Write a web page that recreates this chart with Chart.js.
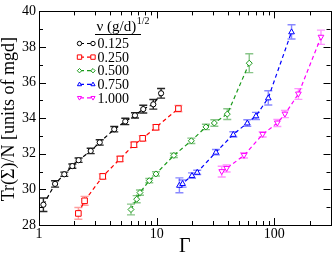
<!DOCTYPE html>
<html><head><meta charset="utf-8">
<script src="https://cdn.jsdelivr.net/npm/chart.js@4/dist/chart.umd.min.js"></script>
<style>html,body{margin:0;padding:0;background:#fff}#wrap{width:332px;height:255px;position:relative}</style>
</head><body><div id="wrap"><canvas id="c" width="332" height="255"></canvas></div>
<script>
const labels = ["0.125","0.250","0.500","0.750","1.000"];
const gamma125 = [1.09,1.37,1.64,1.92,2.17,2.75,3.28,4.36,5.41,6.54,7.69,9.36,10.9];
const tr125    = [29.14,30.31,30.85,31.31,31.64,32.16,32.64,33.38,33.82,34.16,34.51,34.78,35.4];
const err125   = [0.38,0.18,0.12,0.12,0.12,0.15,0.15,0.15,0.18,0.15,0.22,0.27,0.27];
const gamma250 = [2.16,2.44,3.48,4.88,6.41,7.6,9.86,15.3];
const tr250    = [28.65,29.36,30.73,31.71,32.51,32.87,33.49,34.54];
const err250   = [0.33,0.25,0.15,0.15,0.15,0.15,0.15,0.18];
const gamma500 = [6.05,6.76,7.21,8.65,9.86,14.0,19.7,26.2,30.9,39.8,61.2];
const tr500    = [28.87,29.45,29.82,30.49,30.87,31.91,32.73,33.51,33.73,34.23,37.09];
const err500   = [0.3,0.2,0.15,0.12,0.12,0.12,0.15,0.15,0.18,0.3,0.53];
const gamma750 = [15.6,16.6,19.95,22.1,31.9,44.8,58.9,69.8,88.8,140];
const tr750    = [30.23,30.33,30.78,30.96,32.09,33.09,33.73,34.13,35.14,38.85];
const err750   = [0.42,0.2,0.15,0.12,0.15,0.15,0.18,0.2,0.4,0.4];
const gamma1000 = [35.7,39.3,55.2,79.5,106,123,160,249];
const tr1000    = [31.0,31.18,31.91,33.09,33.73,34.23,35.36,38.55];
const err1000   = [0.3,0.2,0.15,0.15,0.2,0.2,0.3,0.4];
const yTicks = [28,30,32,34,36,38,40];
const xTicks = [1,10,100];
const xTitle = '\u0393';
const yTitle = 'Tr(\u03a3)/N [units of mgd]';
const legendTitle = '\u03bd (g/d)';
const legendTitleSup = '1/2';

const series = [
  {x:gamma125,y:tr125,e:err125,c:'#000000',ec:'rgba(0,0,0,0.85)',s:'circle',r:2.6},
  {x:gamma250,y:tr250,e:err250,c:'#ff0000',ec:'rgba(255,80,80,0.55)',s:'rect',r:2.8},
  {x:gamma500,y:tr500,e:err500,c:'#1a9a1a',ec:'rgba(40,150,40,0.55)',s:'rectRot',r:3},
  {x:gamma750,y:tr750,e:err750,c:'#0000ff',ec:'rgba(40,40,255,0.55)',s:'triangle',r:3},
  {x:gamma1000,y:tr1000,e:err1000,c:'#ff00ff',ec:'rgba(255,60,255,0.55)',s:'triangleDown',r:3}
];

function drawMarker(ctx, shape, x, y, r, color){
  ctx.save();
  ctx.strokeStyle = color; ctx.fillStyle = '#fff'; ctx.lineWidth = 1;
  ctx.setLineDash([]);
  ctx.beginPath();
  if(shape==='circle'){ ctx.arc(x,y,r,0,Math.PI*2); }
  else if(shape==='rect'){ ctx.rect(x-r,y-r,2*r,2*r); }
  else if(shape==='rectRot'){ ctx.moveTo(x,y-r);ctx.lineTo(x+r,y);ctx.lineTo(x,y+r);ctx.lineTo(x-r,y);ctx.closePath(); }
  else if(shape==='triangle'){ ctx.moveTo(x,y-r);ctx.lineTo(x+r*0.95,y+r*0.65);ctx.lineTo(x-r*0.95,y+r*0.65);ctx.closePath(); }
  else { ctx.moveTo(x,y+r);ctx.lineTo(x+r*0.95,y-r*0.65);ctx.lineTo(x-r*0.95,y-r*0.65);ctx.closePath(); }
  ctx.fill(); ctx.stroke();
  ctx.restore();
}

const datasets = series.map((s,i)=>({
  label: labels[i],
  data: s.x.map((v,k)=>({x:v,y:s.y[k]})),
  showLine:true,
  borderColor:s.c,
  borderWidth:1.2,
  borderDash:[4,3],
  pointRadius:0,
  pointHoverRadius:0,
  tension:0,
  fill:false
}));

const decor = {
  id:'decor',
  beforeDatasetsDraw(chart){
    const ctx = chart.ctx, xs = chart.scales.x, ys = chart.scales.y;
    series.forEach(s=>{
      ctx.save();
      ctx.strokeStyle = s.ec; ctx.lineWidth = 1.4;
      s.x.forEach((xv,k)=>{
        const px = xs.getPixelForValue(xv);
        const y1 = ys.getPixelForValue(s.y[k]-s.e[k]);
        const y2 = ys.getPixelForValue(s.y[k]+s.e[k]);
        ctx.beginPath();
        ctx.moveTo(px,y1);ctx.lineTo(px,y2);
        ctx.moveTo(px-4,y1);ctx.lineTo(px+4,y1);
        ctx.moveTo(px-4,y2);ctx.lineTo(px+4,y2);
        ctx.stroke();
      });
      ctx.restore();
    });
  },
  afterDatasetsDraw(chart){
    const ctx = chart.ctx, xs = chart.scales.x, ys = chart.scales.y, a = chart.chartArea;
    series.forEach(s=>{
      s.x.forEach((xv,k)=>{
        drawMarker(ctx,s.s,xs.getPixelForValue(xv),ys.getPixelForValue(s.y[k]),s.r,s.c);
      });
    });
    ctx.save();
    ctx.strokeStyle='#000'; ctx.lineWidth=1;
    ctx.strokeRect(Math.round(a.left)+0.5,Math.round(a.top)+0.5,Math.round(a.right-a.left),Math.round(a.bottom-a.top));
    ctx.beginPath();
    for(let d=1; d<=100; d*=10){
      for(let m=1;m<=9;m++){
        const v=d*m; if(v>300) break;
        const px=Math.round(xs.getPixelForValue(v))+0.5;
        const L = m===1?7:4;
        ctx.moveTo(px,a.bottom);ctx.lineTo(px,a.bottom-L);
        ctx.moveTo(px,a.top);ctx.lineTo(px,a.top+L);
      }
    }
    for(let v=28; v<=40; v+=1){
      const py=Math.round(ys.getPixelForValue(v))+0.5;
      const L = (v%2===0)?7:4;
      ctx.moveTo(a.left,py);ctx.lineTo(a.left+L,py);
      ctx.moveTo(a.right,py);ctx.lineTo(a.right-L,py);
    }
    ctx.stroke();
    ctx.restore();
    // axis titles
    ctx.save();
    ctx.fillStyle='#000';
    ctx.textAlign='center'; ctx.textBaseline='middle';
    ctx.font='20px "Liberation Serif"';
    ctx.fillText(xTitle,(a.left+a.right)/2,247);
    ctx.translate(9.5,(a.top+a.bottom)/2+1);
    ctx.rotate(-Math.PI/2);
    ctx.font='18px "Liberation Serif"';
    ctx.fillText(yTitle,0,0);
    ctx.restore();
    // legend
    ctx.save();
    ctx.fillStyle='#000';
    ctx.font='15px "Liberation Serif"';
    ctx.textBaseline='alphabetic';
    ctx.textAlign='left';
    ctx.fillText(legendTitle,96.5,31);
    const tw=ctx.measureText(legendTitle).width;
    ctx.font='10px "Liberation Serif"';
    ctx.fillText(legendTitleSup,96.5+tw+0.5,24);
    ctx.beginPath(); ctx.lineWidth=1; ctx.moveTo(95,34.5); ctx.lineTo(141,34.5); ctx.stroke();
    ctx.font='14px "Liberation Serif"';
    ctx.textBaseline='middle';
    series.forEach((s,i)=>{
      const cy = 43.5+i*13.6;
      ctx.save();
      ctx.strokeStyle=s.c; ctx.lineWidth=1.2; ctx.setLineDash([4,3]);
      ctx.beginPath(); ctx.moveTo(80,cy); ctx.lineTo(93,cy); ctx.stroke();
      ctx.restore();
      drawMarker(ctx,s.s,79.5,cy,2.2,s.c);
      drawMarker(ctx,s.s,93,cy,2.2,s.c);
      ctx.fillStyle='#000';
      ctx.fillText(labels[i],97.5,cy+1);
    });
    ctx.restore();
  }
};

new Chart(document.getElementById('c'),{
  type:'scatter',
  data:{datasets},
  plugins:[decor],
  options:{
    responsive:false,
    animation:false,
    events:[],
    layout:{padding:{top:5,right:1.5,left:0,bottom:0}},
    plugins:{legend:{display:false},tooltip:{enabled:false}},
    scales:{
      x:{
        type:'logarithmic', min:1, max:300,
        afterBuildTicks(s){ s.ticks = xTicks.map(v=>({value:v})); },
        afterFit(s){ s.height=30; },
        grid:{display:false,drawTicks:false,tickLength:0},
        border:{display:true,color:'#000',width:1},
        ticks:{color:'#000',font:{family:'Liberation Serif',size:14},padding:1,maxRotation:0,autoSkip:false,callback:v=>String(v)}
      },
      y:{
        min:28,max:40,
        afterBuildTicks(s){ s.ticks = yTicks.map(v=>({value:v})); },
        afterFit(s){ s.width=39; },
        grid:{display:false,drawTicks:false,tickLength:0},
        border:{display:true,color:'#000',width:1},
        ticks:{color:'#000',font:{family:'Liberation Serif',size:14},padding:3,callback:v=>String(v)}
      }
    }
  }
});
</script></body></html>
